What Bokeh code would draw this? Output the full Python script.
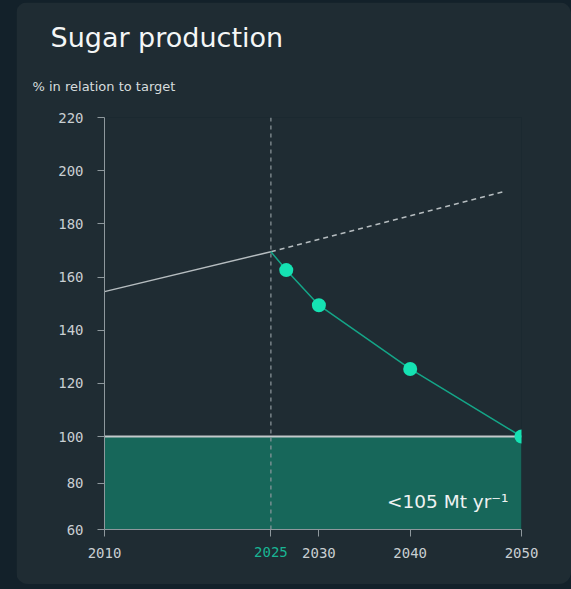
import numpy as np
from bokeh.plotting import figure
from bokeh.models import Range1d, FixedTicker, Label, LinearAxis, Title
from bokeh.embed import file_html
from bokeh.resources import INLINE

# ---- data ----
baseline_years = [2010, 2025]
baseline_vals = [154.5, 169.5]
bau_years = [2025, 2048.5]
bau_vals = [169.5, 192.2]
path_years = [2025, 2026.6, 2030, 2040, 2050]
path_vals = [169.5, 162.6, 149.4, 125.4, 100]
dot_years = [2026.6, 2030, 2040, 2050]
dot_vals = [162.6, 149.4, 125.4, 100]
target_val = 100
x_tick_years = [2010, 2025, 2030, 2040, 2050]
highlight_year = 2025
y_tick_vals = [60, 80, 100, 120, 140, 160, 180, 200, 220]
target_label = "<105 Mt yr\u207b\u00b9"
title_text = "Sugar production"
subtitle_text = "% in relation to target"

# ---- non-uniform axis scales (layout) ----
X_ANCH = [2010, 2025, 2030, 2040, 2050]
X_POS = [0, 166.4, 214.4, 305.7, 417]
Y_ANCH = [60, 100, 220]
Y_POS = [0, 93, 412]

def xs(v):
    return np.interp(v, X_ANCH, X_POS).tolist()

def ys(v):
    return np.interp(v, Y_ANCH, Y_POS).tolist()

CARD = "#1f2c33"
OUTER = "#13212a"
TXT = "#c9cfd2"
AX = "#8e989d"
TEAL = "#15e2b3"
TEAL_LINE = "#14a688"
FILL = "#17675a"
SANS = "DejaVu Sans"
MONO = "DejaVu Sans Mono"

p = figure(width=555, height=582, output_backend="svg", toolbar_location=None, title=None,
           x_range=Range1d(X_POS[0], X_POS[-1]), y_range=Range1d(Y_POS[0], Y_POS[-1]),
           min_border_left=88, min_border_right=50, min_border_top=115, min_border_bottom=55)
p.background_fill_color = CARD
p.border_fill_color = CARD
p.outline_line_color = None
p.grid.visible = False
p.styles = {"margin-left": "16px", "margin-top": "2px", "border-radius": "12px", "overflow": "hidden"}

# target area
p.quad(left=xs(2010), right=xs(2050), bottom=ys(60), top=ys(target_val), fill_color=FILL, line_color=None)
p.line(xs([2010, 2050]), ys([target_val, target_val]), line_color="#c3c9cb", line_width=2)

# 2025 vertical dashed
p.line(xs([2025, 2025]), ys([60, 220]), line_color="#8e989d", line_width=1.2, line_dash="4 4")

# lines
p.line(xs(baseline_years), ys(baseline_vals), line_color="#b6bdc0", line_width=1.5)
p.line(xs(bau_years), ys(bau_vals), line_color="#b6bdc0", line_width=1.5, line_dash="5 4")
p.line(xs(path_years), ys(path_vals), line_color=TEAL_LINE, line_width=1.5)
p.scatter(xs(dot_years), ys(dot_vals), size=14, fill_color=TEAL, line_color=None)

# axes
tx = xs(x_tick_years)
p.xaxis.ticker = FixedTicker(ticks=tx)
p.xaxis.major_label_overrides = {t: ("" if y == highlight_year else str(y)) for t, y in zip(tx, x_tick_years)}
ty = ys(y_tick_vals)
p.yaxis.ticker = FixedTicker(ticks=ty)
p.yaxis.major_label_overrides = {t: str(v) for t, v in zip(ty, y_tick_vals)}
for ax in (p.xaxis, p.yaxis):
    ax.axis_line_color = AX
    ax.major_tick_line_color = AX
    ax.major_tick_out = 7
    ax.major_tick_in = 0
    ax.minor_tick_line_color = None
    ax.major_label_text_font = MONO
    ax.major_label_text_font_size = "14px"
    ax.major_label_text_color = TXT
p.xaxis.major_label_standoff = 11
p.yaxis.major_label_standoff = 14

# highlighted 2025 tick label (extra axis, pulled up into the label row)
hx = xs(highlight_year)
ax2 = LinearAxis(ticker=FixedTicker(ticks=[hx]), major_label_overrides={hx: str(highlight_year)},
                 axis_line_color=None, major_tick_line_color=None, minor_tick_line_color=None,
                 major_tick_out=0, major_tick_in=0, major_label_standoff=-14,
                 major_label_text_font=MONO, major_label_text_font_size="14px",
                 major_label_text_color="#19b594")
p.add_layout(ax2, "below")

# target label
p.add_layout(Label(x=xs(2050), y=ys(60), text=target_label, text_align="right", text_baseline="alphabetic",
                   x_offset=-13, y_offset=28, text_font=SANS, text_font_size="18.5px",
                   text_color="#eef2f2"))

# titles
p.add_layout(Title(text=subtitle_text, align="left", offset=-72, standoff=48,
                   text_font=SANS, text_font_size="13px", text_font_style="normal",
                   text_color="#d6dcdd"), "above")
p.add_layout(Title(text=title_text, align="left", offset=-54, standoff=0,
                   text_font=SANS, text_font_size="27px", text_font_style="normal",
                   text_color="#f4f6f6"), "above")

html = file_html(p, INLINE)
html = html.replace("</head>", "<style>html,body{margin:0 !important;background:%s;}</style></head>" % OUTER, 1)
open("out.html", "w").write(html)
